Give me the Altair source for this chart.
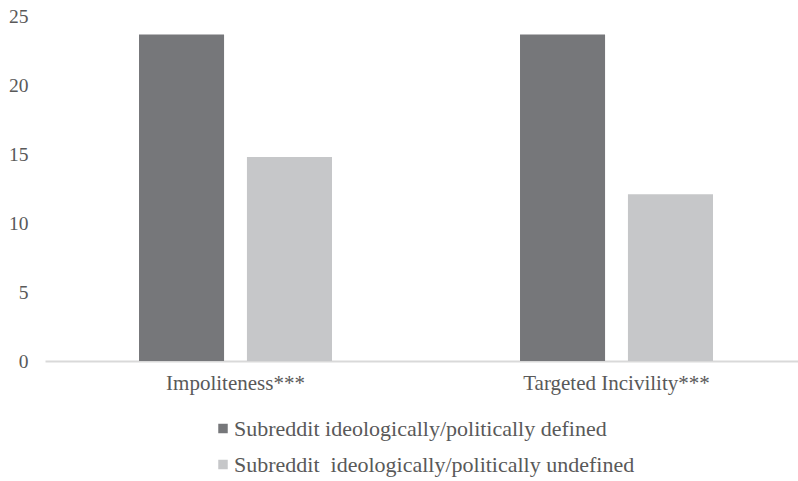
import altair as alt
import pandas as pd

categories = ["Impoliteness***", "Targeted Incivility***"]
groups = ["Subreddit ideologically/politically defined",
          "Subreddit\u00a0 ideologically/politically undefined"]
defined_vals = [23.7, 23.7]
undefined_vals = [14.8, 12.1]
colors = ["#76777a", "#c6c7c9"]

rows = []
for c, d, u in zip(categories, defined_vals, undefined_vals):
    rows.append({"category": c, "group": groups[0], "value": d})
    rows.append({"category": c, "group": groups[1], "value": u})
df = pd.DataFrame(rows)

FONT = "Liberation Serif"
TXT = "#595959"
W, H = 752, 344.5

chart = alt.Chart(df).mark_bar().encode(
    x=alt.X("category:N", sort=categories,
            scale=alt.Scale(range=[0, 762], paddingInner=0, paddingOuter=0),
            axis=alt.Axis(title=None, labelAngle=0, domain=True,
                          domainColor="#d9d9d9", domainWidth=2, ticks=False,
                          labelPadding=11, labelFont=FONT, labelFontSize=21,
                          labelColor=TXT, grid=False, labelLimit=400)),
    xOffset=alt.XOffset("group:N", sort=groups,
                        scale=alt.Scale(paddingInner=0.212, paddingOuter=0.871)),
    y=alt.Y("value:Q", scale=alt.Scale(domain=[0, 25], nice=False),
            axis=alt.Axis(title=None, values=[0, 5, 10, 15, 20, 25], domain=False,
                          ticks=False, grid=False, gridOpacity=0, labelPadding=17,
                          labelFont=FONT, labelFontSize=19.5, labelColor=TXT)),
    color=alt.Color("group:N", sort=groups,
                    scale=alt.Scale(domain=groups, range=colors),
                    legend=alt.Legend(title=None, orient="none", direction="vertical",
                                      legendX=167, legendY=401, symbolType="square",
                                      symbolSize=90, symbolStrokeWidth=0,
                                      labelFont=FONT, labelFontSize=22,
                                      labelColor=TXT, labelOffset=0,
                                      rowPadding=14, padding=0,
                                      labelLimit=600)),
).properties(
    width=W, height=H,
    background="white",
    autosize=alt.AutoSizeParams(type="none"),
    padding={"left": 45, "top": 16.5, "right": 1, "bottom": 120},
).configure(
    view=alt.ViewConfig(stroke="white", strokeWidth=0, strokeOpacity=0, fill="white"),
    axis=alt.AxisConfig(grid=False, ticks=False, gridOpacity=0),
)

chart.save("out.html", embed_options={"renderer": "svg", "actions": False})
